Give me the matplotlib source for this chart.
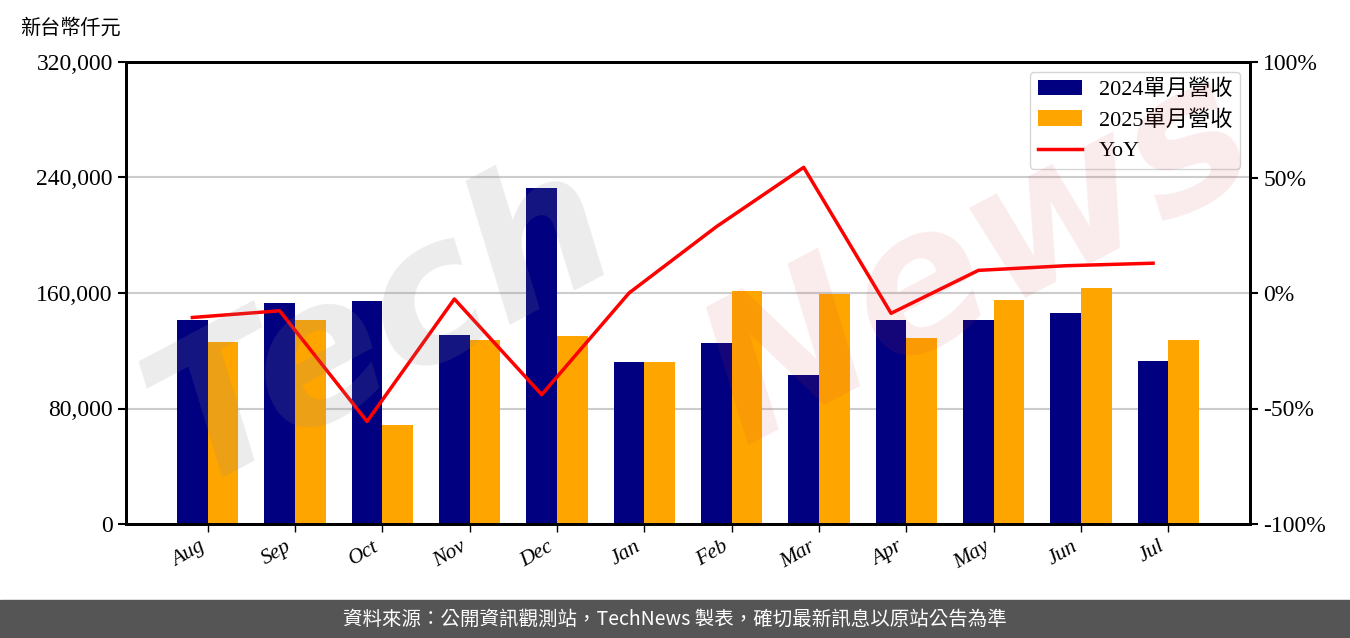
import numpy as np
import matplotlib
matplotlib.use("Agg")
import matplotlib.pyplot as plt
from matplotlib.ticker import FuncFormatter, MultipleLocator

# data
months = ["Aug", "Sep", "Oct", "Nov", "Dec", "Jan", "Feb", "Mar", "Apr", "May", "Jun", "Jul"]
rev_2024 = [141300, 153100, 154450, 130900, 232700, 112200, 125360, 103200, 141300, 141300, 146140, 112900]
rev_2025 = [126050, 141300, 68570, 127440, 130200, 112200, 161380, 159300, 128800, 155140, 163450, 127440]
yoy = [-10.6, -7.7, -55.6, -2.6, -44.0, 0.0, 28.7, 54.4, -8.8, 9.8, 11.8, 12.9]

serif = ["Liberation Serif", "Noto Sans CJK TC", "DejaVu Sans"]
plt.rcParams["font.family"] = serif

fig = plt.figure(figsize=(13.5, 6.38), dpi=100)
ax = fig.add_axes([126 / 1350, 1 - 524 / 638, (1250 - 126) / 1350, (524 - 62) / 638])
ax2 = ax.twinx()

x = np.arange(len(months))
w = 0.35
b1 = ax.bar(x - w / 2, rev_2024, w, color="#000080", label="2024單月營收", zorder=2)
b2 = ax.bar(x + w / 2, rev_2025, w, color="#FFA500", label="2025單月營收", zorder=2)
l1, = ax2.plot(x - w / 2, yoy, color="red", lw=2.5, label="YoY", zorder=3)

ax.set_xlim(-0.935, 11.935)
ax.set_ylim(0, 320000)
ax.yaxis.set_major_locator(MultipleLocator(80000))
ax.yaxis.set_major_formatter(FuncFormatter(lambda v, p: f"{int(v):,}"))
ax.grid(axis="y", color="#cccccc", lw=1.5, zorder=0)
ax.set_axisbelow(True)

ax2.set_ylim(-100, 100)
ax2.yaxis.set_major_locator(MultipleLocator(50))
ax2.yaxis.set_major_formatter(FuncFormatter(lambda v, p: f"{int(v)}%"))

ax.set_xticks(x)
ax.set_xticklabels(months, rotation=30, ha="right", fontsize=15.5, fontstyle="italic")
ax.tick_params(axis="y", labelsize=17, length=6, width=1.5)
ax.tick_params(axis="x", length=6, width=1)
ax2.tick_params(axis="y", labelsize=17, length=6, width=1.5)
for a in (ax, ax2):
    for s in a.spines.values():
        s.set_linewidth(2)

fig.text(20 / 1350, 1 - 28 / 638, "新台幣仟元", fontsize=14.5, va="center", ha="left",
         family=["Noto Sans CJK TC"])

leg = ax2.legend([b1, b2, l1], ["2024單月營收", "2025單月營收", "YoY"], loc="upper right",
                 fontsize=16, frameon=True, fancybox=True, borderpad=0.35, handlelength=2.0,
                 handletextpad=0.75, labelspacing=0.45, bbox_to_anchor=(1.001, 1.003))
leg.get_frame().set_edgecolor("#cccccc")

# watermark
fig.text(0.09, 0.24, "Tech", fontsize=140, fontstyle="italic", fontweight="bold",
         color="#888888", alpha=0.16, rotation=28, family=["DejaVu Sans"], zorder=5)
fig.text(0.50, 0.31, "News", fontsize=140, fontstyle="italic", fontweight="bold",
         color="#d04040", alpha=0.10, rotation=28, family=["DejaVu Sans"], zorder=5)

# footer
fig.patches.append(plt.Rectangle((0, 0), 1, 38 / 638, transform=fig.transFigure,
                                 color="#555555", zorder=0))
fig.text(0.5, 19 / 638, "資料來源：公開資訊觀測站，TechNews 製表，確切最新訊息以原站公告為準",
         color="white", fontsize=14, ha="center", va="center", family=["Noto Sans CJK TC"])

fig.savefig("out.png", dpi=100)
